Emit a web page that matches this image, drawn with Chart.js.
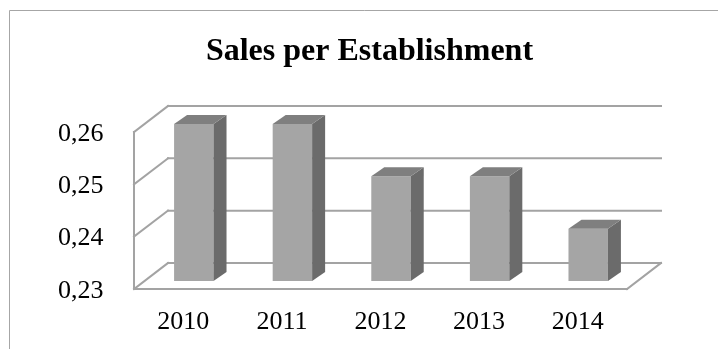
<!DOCTYPE html>
<html>
<head>
<meta charset="utf-8">
<title>Sales per Establishment</title>
<script src="https://cdn.jsdelivr.net/npm/chart.js@4/dist/chart.umd.min.js"></script>
<style>
  html, body { margin: 0; padding: 0; background: #fff; overflow: hidden; }
  #myChart { display: block; }
</style>
</head>
<body>
<canvas id="myChart" width="718" height="349"></canvas>
<script>
var years = ['2010', '2011', '2012', '2013', '2014'];
var salesPerEstablishment = [0.26, 0.26, 0.25, 0.25, 0.24];
var yTicks = [0.23, 0.24, 0.25, 0.26];
var yTickLabels = ['0,23', '0,24', '0,25', '0,26'];

// 3d offsets relative to the plane the bars stand in
var backShift = { x: 23.5, y: -18 };
var frontShift = { x: -10.5, y: 8 };
var barDepth = { x: 13, y: -9 };

var wallColor = '#a3a3a3';
var serif = '"Liberation Serif", "Times New Roman", serif';

function line(ctx, x1, y1, x2, y2) {
    ctx.beginPath();
    ctx.moveTo(x1, y1);
    ctx.lineTo(x2, y2);
    ctx.stroke();
}

var frame = {
    id: 'frame',
    beforeDraw: function(chart) {
        var ctx = chart.ctx;
        ctx.save();
        ctx.strokeStyle = '#a6a6a6';
        ctx.lineWidth = 1;
        ctx.beginPath();
        ctx.moveTo(9.5, chart.height + 5);
        ctx.lineTo(9.5, 10.5);
        ctx.lineTo(chart.width + 5, 10.5);
        ctx.stroke();
        ctx.restore();
    }
};

var walls = {
    id: 'walls',
    beforeDatasetsDraw: function(chart) {
        var ctx = chart.ctx;
        var area = chart.chartArea;
        var y = chart.scales.y;
        ctx.save();
        ctx.strokeStyle = wallColor;
        ctx.lineWidth = 2;
        ctx.lineCap = 'square';

        var bl = area.left + backShift.x, br = area.right + backShift.x;
        var fl = area.left + frontShift.x, fr = area.right + frontShift.x;

        yTicks.forEach(function(v) {
            var py = y.getPixelForValue(v);
            // back wall gridline
            line(ctx, bl, py + backShift.y, br, py + backShift.y);
            // side wall gridline
            line(ctx, fl, py + frontShift.y, bl, py + backShift.y);
        });

        // side wall front edge
        line(ctx, fl, area.top + frontShift.y, fl, area.bottom + frontShift.y);
        // floor front and right edges
        line(ctx, fl, area.bottom + frontShift.y, fr, area.bottom + frontShift.y);
        line(ctx, fr, area.bottom + frontShift.y, br, area.bottom + backShift.y);
        ctx.restore();
    },
    afterDatasetsDraw: function(chart) {
        var ctx = chart.ctx;
        var floor = chart.chartArea.bottom;
        var meta = chart.getDatasetMeta(0);
        ctx.save();
        meta.data.forEach(function(bar) {
            var p = bar.getProps(['x', 'y', 'base', 'width'], true);
            var left = p.x - p.width / 2, right = p.x + p.width / 2;
            var base = Math.min(p.base, floor);

            // side face
            ctx.fillStyle = '#6b6b6b';
            ctx.beginPath();
            ctx.moveTo(right, p.y);
            ctx.lineTo(right + barDepth.x, p.y + barDepth.y);
            ctx.lineTo(right + barDepth.x, base + barDepth.y);
            ctx.lineTo(right, base);
            ctx.closePath();
            ctx.fill();

            // top face
            ctx.fillStyle = '#7f7f7f';
            ctx.beginPath();
            ctx.moveTo(left, p.y);
            ctx.lineTo(left + barDepth.x, p.y + barDepth.y);
            ctx.lineTo(right + barDepth.x, p.y + barDepth.y);
            ctx.lineTo(right, p.y);
            ctx.closePath();
            ctx.fill();
        });
        ctx.restore();
    }
};

var ctx = document.getElementById('myChart').getContext('2d');

var myChart = new Chart(ctx, {
    type: 'bar',
    data: {
        labels: years,
        datasets: [{
            data: salesPerEstablishment,
            backgroundColor: '#a5a5a5',
            borderWidth: 0,
            barPercentage: 1,
            categoryPercentage: 0.4
        }]
    },
    options: {
        responsive: false,
        animation: false,
        layout: {
            padding: { left: 21, right: 0, top: 0, bottom: 0 }
        },
        plugins: {
            legend: { display: false },
            tooltip: { enabled: false },
            title: {
                display: true,
                text: 'Sales per Establishment',
                color: '#000',
                font: { family: serif, size: 32, weight: 'bold' },
                padding: { top: 33, bottom: 52.6 }
            }
        },
        scales: {
            x: {
                grid: { display: false },
                border: { display: false },
                ticks: {
                    color: '#000',
                    font: { family: serif, size: 26 },
                    padding: 17.4,
                    labelOffset: -10.5,
                    maxRotation: 0
                },
                afterFit: function(scale) { scale.height = 68; }
            },
            y: {
                min: 0.23,
                max: 0.26,
                grid: { display: false },
                border: { display: false },
                afterBuildTicks: function(scale) {
                    scale.ticks = yTicks.map(function(v) { return { value: v }; });
                },
                ticks: {
                    color: '#000',
                    font: { family: serif, size: 26 },
                    padding: 33,
                    labelOffset: 10,
                    callback: function(value, i) { return yTickLabels[i]; }
                },
                afterFit: function(scale) { scale.width = 123.5; }
            },
            // empty right-hand axis, keeps room for the depth of the floor
            y2: {
                position: 'right',
                grid: { display: false },
                border: { display: false },
                ticks: { display: false },
                afterFit: function(scale) { scale.width = 80.5; }
            }
        }
    },
    plugins: [frame, walls]
});
</script>
</body>
</html>
